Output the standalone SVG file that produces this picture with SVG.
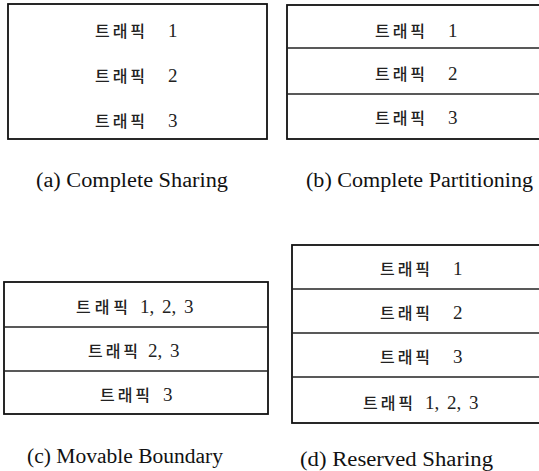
<svg xmlns="http://www.w3.org/2000/svg" width="539" height="471" viewBox="0 0 539 471">
<style>
.box{fill:#fff;stroke:#111;stroke-width:1.8}
.div{stroke:#222;stroke-width:1.3}
.k{font-family:"Noto Sans CJK KR",sans-serif;font-size:16px;font-weight:500;fill:#222;dominant-baseline:central}
.n{font-family:"Liberation Serif",serif;font-size:19px;fill:#222;dominant-baseline:central;word-spacing:3px}
.cap{font-family:"Liberation Serif",serif;font-size:20px;fill:#111}
</style>
<rect width="539" height="471" fill="#fff"/>
<g id="a">
<rect class="box" x="8" y="4" width="259" height="135"/>
<text class="k" x="95" y="30" textLength="50" lengthAdjust="spacing">트래픽</text><text class="n" x="168" y="30">1</text>
<text class="k" x="95" y="75" textLength="50" lengthAdjust="spacing">트래픽</text><text class="n" x="168" y="75">2</text>
<text class="k" x="95" y="120" textLength="50" lengthAdjust="spacing">트래픽</text><text class="n" x="168" y="120">3</text>
<text class="cap" x="36" y="187" textLength="192" lengthAdjust="spacingAndGlyphs">(a) Complete Sharing</text>
</g>
<g id="b">
<rect class="box" x="287" y="5" width="260" height="134"/>
<line class="div" x1="287" y1="48" x2="539" y2="48"/>
<line class="div" x1="287" y1="94" x2="539" y2="94"/>
<text class="k" x="375" y="30" textLength="50" lengthAdjust="spacing">트래픽</text><text class="n" x="448" y="30">1</text>
<text class="k" x="375" y="73" textLength="50" lengthAdjust="spacing">트래픽</text><text class="n" x="448" y="73">2</text>
<text class="k" x="375" y="117" textLength="50" lengthAdjust="spacing">트래픽</text><text class="n" x="448" y="117">3</text>
<text class="cap" x="306" y="187" textLength="227" lengthAdjust="spacingAndGlyphs">(b) Complete Partitioning</text>
</g>
<g id="c">
<rect class="box" x="4" y="282" width="264" height="132"/>
<line class="div" x1="4" y1="327" x2="268" y2="327"/>
<line class="div" x1="4" y1="371" x2="268" y2="371"/>
<text class="k" x="76" y="306" textLength="52" lengthAdjust="spacing">트래픽</text><text class="n" x="140" y="306">1, 2, 3</text>
<text class="k" x="88" y="350" textLength="50" lengthAdjust="spacing">트래픽</text><text class="n" x="148" y="350">2, 3</text>
<text class="k" x="100" y="394" textLength="50" lengthAdjust="spacing">트래픽</text><text class="n" x="163" y="394">3</text>
<text class="cap" x="27" y="463" textLength="196" lengthAdjust="spacingAndGlyphs">(c) Movable Boundary</text>
</g>
<g id="d">
<rect class="box" x="292" y="245" width="255" height="178"/>
<line class="div" x1="292" y1="289" x2="539" y2="289"/>
<line class="div" x1="292" y1="333" x2="539" y2="333"/>
<line class="div" x1="292" y1="377" x2="539" y2="377"/>
<text class="k" x="380" y="268" textLength="50" lengthAdjust="spacing">트래픽</text><text class="n" x="453" y="268">1</text>
<text class="k" x="380" y="312" textLength="50" lengthAdjust="spacing">트래픽</text><text class="n" x="453" y="312">2</text>
<text class="k" x="380" y="356" textLength="50" lengthAdjust="spacing">트래픽</text><text class="n" x="453" y="356">3</text>
<text class="k" x="363" y="402" textLength="50" lengthAdjust="spacing">트래픽</text><text class="n" x="425" y="402">1, 2, 3</text>
<text class="cap" x="300" y="466" textLength="193" lengthAdjust="spacingAndGlyphs">(d) Reserved Sharing</text>
</g>
</svg>
